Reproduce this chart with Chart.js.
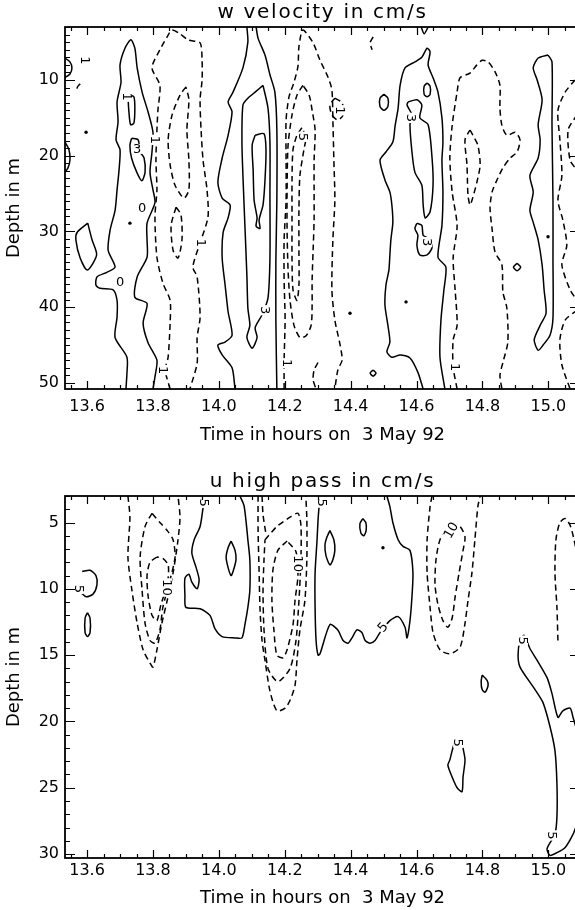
<!DOCTYPE html>
<html><head><meta charset="utf-8">
<script src="https://cdn.jsdelivr.net/npm/chart.js@4.4.1/dist/chart.umd.min.js"></script>
<style>
html,body{margin:0;padding:0;background:#fff;overflow:hidden;width:575px;height:910px;}
#c1{position:absolute;left:0;top:0;}
#c2{position:absolute;left:0;top:469px;}
</style></head><body>
<canvas id="c1" width="590" height="450" style="width:590px;height:450px"></canvas>
<canvas id="c2" width="590" height="441" style="width:590px;height:441px"></canvas>
<script>
// ---------- axes ----------
const xMin = 13.533, xMax = 15.096;
const xTickValues = [13.6, 13.8, 14.0, 14.2, 14.4, 14.6, 14.8, 15.0];
const wDepthTicks = [10, 20, 30, 40, 50];
const uDepthTicks = [5, 10, 15, 20, 25, 30];
const wDepthMax = 50.8, uDepthMax = 30.3;
const wTitle = 'w velocity in cm/s';
const uTitle = 'u high pass in cm/s';

// ---------- w velocity: positive (solid) contours, [time h, depth m] ----------
const wEdgeArcA = [[13.533,7.1],[13.548,7.6],[13.554,8.4],[13.548,9.2],[13.533,9.7]];
const wEdgeArcB = [[13.533,18.2],[13.545,19.2],[13.548,20.6],[13.542,21.6],[13.533,22.2]];
const wDiamond = [[13.602,28.9],[13.615,31.1],[13.629,33.1],[13.601,35.1],[13.579,33.5],[13.566,31.1],[13.570,30.1],[13.602,28.9]];
const wZero = [[13.718,50.8],[13.721,48.7],[13.721,46.6],[13.685,44.0],[13.691,41.3],[13.691,39.1],[13.679,37.7],[13.639,37.5],[13.627,37.1],[13.630,36.0],[13.660,35.4],[13.685,34.7],[13.664,32.5],[13.670,29.8],[13.685,27.2],[13.691,24.5],[13.697,21.9],[13.700,19.2],[13.688,17.9],[13.694,15.5],[13.691,12.9],[13.703,10.3],[13.700,8.0],[13.715,5.8],[13.733,4.7],[13.745,5.8],[13.752,8.4],[13.767,11.6],[13.785,14.2],[13.800,16.9],[13.797,19.5],[13.791,22.2],[13.800,24.5],[13.806,26.2],[13.782,28.9],[13.782,31.1],[13.782,33.4],[13.752,36.0],[13.745,38.7],[13.782,39.5],[13.770,42.1],[13.785,44.7],[13.812,47.0],[13.806,49.2],[13.800,50.8]];
const wOneA = [[13.730,12.0],[13.742,12.2],[13.745,13.7],[13.742,15.7],[13.732,15.9],[13.727,14.2],[13.725,12.2],[13.730,12.0]];
const wThreeA = [[13.735,17.7],[13.755,17.9],[13.761,19.5],[13.773,20.3],[13.776,22.2],[13.766,23.3],[13.751,22.2],[13.735,20.3],[13.730,18.6],[13.735,17.7]];
const wLineA = [[14.085,3.0],[14.088,5.0],[14.073,8.4],[14.043,11.6],[14.028,12.9],[14.040,14.2],[14.028,17.3],[14.010,20.3],[13.997,23.5],[14.010,25.6],[14.034,26.5],[14.028,28.2],[14.013,30.1],[14.010,33.5],[14.019,37.1],[14.028,40.6],[14.040,43.7],[14.019,44.6],[13.997,45.0],[14.010,46.3],[14.040,48.0],[14.049,50.8]];
const wLineB = [[14.113,3.0],[14.119,4.5],[14.140,6.7],[14.155,9.3],[14.170,11.6],[14.176,16.6],[14.176,25.9],[14.173,33.8],[14.173,41.7],[14.176,50.8]];
const wThreeB = [[14.134,10.7],[14.149,13.7],[14.155,18.2],[14.155,24.8],[14.155,33.5],[14.149,38.8],[14.131,41.0],[14.110,42.7],[14.116,44.0],[14.101,45.4],[14.085,44.0],[14.094,42.4],[14.088,40.1],[14.085,35.8],[14.079,29.2],[14.073,22.6],[14.070,18.2],[14.073,13.3],[14.088,12.4],[14.110,11.6],[14.134,10.7]];
const wFiveB = [[14.110,17.3],[14.137,17.1],[14.143,19.2],[14.140,23.2],[14.134,26.5],[14.122,28.5],[14.125,29.6],[14.113,29.3],[14.116,28.2],[14.107,25.9],[14.104,21.9],[14.101,18.6],[14.110,17.3]];
const wBandC = [[14.620,50.8],[14.604,48.6],[14.580,46.7],[14.550,46.3],[14.525,46.6],[14.510,45.9],[14.519,44.6],[14.513,42.4],[14.504,39.7],[14.507,37.1],[14.516,35.1],[14.519,33.1],[14.522,31.1],[14.528,28.8],[14.525,26.5],[14.519,24.8],[14.504,23.2],[14.489,20.6],[14.507,19.5],[14.528,18.2],[14.535,16.0],[14.544,13.7],[14.550,10.7],[14.565,8.4],[14.595,7.6],[14.616,7.0],[14.632,5.8],[14.641,6.3],[14.635,8.0],[14.650,9.7],[14.665,11.6],[14.677,15.0],[14.680,18.2],[14.677,20.6],[14.680,24.8],[14.677,29.2],[14.665,33.4],[14.689,34.7],[14.683,37.7],[14.674,41.7],[14.671,46.6],[14.686,50.8]];
const wThreeC1 = [[14.574,12.9],[14.601,12.6],[14.616,13.3],[14.610,15.0],[14.635,15.9],[14.647,20.3],[14.650,23.9],[14.641,27.4],[14.626,28.2],[14.620,26.5],[14.616,23.9],[14.595,22.2],[14.586,19.5],[14.580,15.9],[14.586,14.6],[14.571,13.3],[14.574,12.9]];
const wThreeC2 = [[14.601,28.9],[14.616,29.2],[14.620,30.5],[14.635,30.9],[14.647,32.1],[14.632,33.1],[14.610,33.1],[14.601,31.8],[14.604,30.5],[14.595,29.6],[14.601,28.9]];
const wBlobC1 = [[14.501,11.9],[14.513,12.4],[14.513,13.5],[14.501,14.0],[14.489,13.5],[14.489,12.4],[14.501,11.9]];
const wBlobC2 = [[14.632,10.4],[14.641,10.8],[14.641,11.9],[14.632,12.2],[14.623,11.9],[14.623,10.8],[14.632,10.4]];
const wRingC = [[14.468,48.3],[14.477,48.7],[14.468,49.1],[14.459,48.7],[14.468,48.3]];
const wRingD = [[14.905,34.2],[14.916,34.7],[14.905,35.2],[14.894,34.7],[14.905,34.2]];
const wLoopD = [[14.999,6.7],[15.011,7.6],[15.011,16.0],[15.014,25.9],[15.014,33.8],[15.014,41.4],[15.005,43.7],[14.984,45.0],[14.969,45.7],[14.957,44.3],[14.975,42.4],[14.993,40.8],[14.987,37.7],[14.981,34.4],[14.969,31.1],[14.954,28.8],[14.944,27.2],[14.954,24.8],[14.944,22.6],[14.969,20.3],[14.975,17.9],[14.969,15.9],[14.981,12.6],[14.966,10.0],[14.954,8.4],[14.969,7.1],[14.999,6.7]];
const wTopV = [[14.614,3.0],[14.623,3.9],[14.635,3.0]];

// ---------- w velocity: negative (dashed) contours ----------
const wNegA = [[13.852,50.8],[13.837,48.3],[13.846,46.6],[13.852,42.1],[13.852,39.1],[13.830,36.8],[13.812,33.4],[13.806,28.1],[13.812,24.5],[13.809,20.6],[13.812,16.6],[13.815,14.0],[13.821,10.7],[13.797,8.4],[13.821,6.0],[13.843,4.3],[13.858,3.4],[13.882,3.9],[13.906,4.7],[13.943,5.1],[13.949,7.4],[13.949,10.0],[13.943,12.6],[13.946,16.6],[13.952,20.6],[13.964,24.5],[13.967,28.1],[13.943,31.5],[13.921,34.7],[13.934,36.0],[13.943,41.3],[13.934,44.0],[13.934,47.4],[13.912,50.8]];
const wNegA3 = [[13.900,10.9],[13.882,12.0],[13.858,14.6],[13.846,17.9],[13.852,21.2],[13.867,23.9],[13.894,25.6],[13.909,24.5],[13.909,20.6],[13.903,16.6],[13.909,12.6],[13.900,10.9]];
const wNegA5 = [[13.870,26.8],[13.885,27.8],[13.888,31.1],[13.876,33.5],[13.861,32.5],[13.855,29.2],[13.870,26.8]];
const wNegAbit = [[13.579,10.5],[13.570,11.0],[13.576,11.5]];
const wNegB1 = [[14.198,50.8],[14.198,47.0],[14.201,41.7],[14.198,36.4],[14.198,31.1],[14.204,25.9],[14.204,20.6],[14.204,15.3],[14.213,12.2],[14.228,10.3],[14.240,8.2],[14.243,5.6],[14.255,3.4],[14.286,5.1],[14.307,7.4],[14.331,9.6],[14.343,11.3],[14.346,15.3],[14.349,20.6],[14.352,25.9],[14.346,31.1],[14.343,37.7],[14.352,41.7],[14.368,45.0],[14.374,47.0],[14.361,48.3],[14.352,50.8]];
const wNegB3 = [[14.255,10.7],[14.237,12.0],[14.222,14.6],[14.210,18.6],[14.207,24.5],[14.207,29.8],[14.210,35.1],[14.216,39.1],[14.228,42.4],[14.246,44.0],[14.264,43.8],[14.280,42.4],[14.283,39.7],[14.283,36.4],[14.286,32.5],[14.289,28.5],[14.289,24.5],[14.289,20.6],[14.292,16.6],[14.283,14.0],[14.274,12.0],[14.255,10.7]];
const wNegB5 = [[14.252,16.3],[14.237,17.3],[14.225,19.2],[14.222,23.2],[14.222,28.5],[14.222,33.8],[14.225,37.7],[14.237,39.1],[14.243,37.1],[14.243,32.5],[14.243,27.2],[14.246,22.6],[14.258,19.2],[14.264,17.6],[14.252,16.3]];
const wNegBloop = [[14.352,12.4],[14.374,13.0],[14.377,14.6],[14.361,15.3],[14.343,14.6],[14.337,13.3],[14.352,12.4]];
const wNegBtail = [[14.301,47.3],[14.289,48.3],[14.286,49.6],[14.295,50.8]];
const wNegBtop = [[14.468,4.3],[14.459,5.1],[14.465,6.0]];
const wNegC1 = [[14.723,50.8],[14.711,47.9],[14.711,44.3],[14.723,42.4],[14.717,37.7],[14.711,33.5],[14.723,29.2],[14.708,24.8],[14.701,20.3],[14.708,16.0],[14.723,11.6],[14.732,9.7],[14.762,9.1],[14.783,8.0],[14.799,7.4],[14.817,7.6],[14.838,8.9],[14.853,10.7],[14.853,13.7],[14.859,16.0],[14.874,17.3],[14.899,16.9],[14.914,17.9],[14.905,19.5],[14.884,20.3],[14.862,21.6],[14.844,23.2],[14.829,24.8],[14.823,26.9],[14.829,29.6],[14.838,32.7],[14.859,34.4],[14.862,38.0],[14.874,40.1],[14.877,44.6],[14.862,47.3],[14.853,49.0],[14.859,50.8]];
const wNegC3 = [[14.762,16.6],[14.771,17.3],[14.786,18.6],[14.793,21.2],[14.783,23.5],[14.768,25.9],[14.762,26.5],[14.756,25.2],[14.753,21.2],[14.747,17.9],[14.762,16.6]];
const wNegD1 = [[15.081,10.0],[15.051,11.6],[15.029,14.0],[15.035,17.9],[15.041,22.6],[15.029,25.9],[15.044,28.5],[15.056,31.8],[15.041,34.4],[15.066,37.7],[15.087,39.1]];
const wNegD2 = [[15.087,40.4],[15.051,41.7],[15.035,44.3],[15.041,47.6],[15.066,50.8]];
const wNegD3 = [[15.087,14.6],[15.060,16.6],[15.066,20.6],[15.087,21.9]];

const wDots = [[13.597,16.9],[13.730,28.9],[14.568,39.3],[14.999,30.7],[14.398,40.8]];
const wLabels = [['1',13.594,7.4,90],['1',13.721,12.2,90],['3',13.752,19.1,0],['0',13.767,26.9,0],['0',13.700,36.7,0],['1',13.806,17.9,90],['1',13.830,48.3,90],['1',13.946,31.5,90],['3',14.140,40.4,90],['5',14.255,17.5,90],['1',14.368,14.0,90],['3',14.583,15.0,90],['3',14.632,31.4,90],['1',14.207,47.4,90],['1',14.717,47.9,90]];

// ---------- u high pass: positive (solid) contours ----------
const uPosA = [[13.585,8.7],[13.609,8.6],[13.627,9.0],[13.630,9.7],[13.618,10.4],[13.597,10.6],[13.582,10.3]];
const uPosB = [[13.601,11.8],[13.609,12.2],[13.609,13.3],[13.601,13.6],[13.594,13.3],[13.594,12.2],[13.601,11.8]];
const uPosC = [[13.952,3.9],[13.943,5.3],[13.925,6.3],[13.918,7.3],[13.931,8.4],[13.940,9.3],[13.934,10.0],[13.918,9.5],[13.909,8.9],[13.897,9.2],[13.897,10.5],[13.900,11.4],[13.943,11.5],[13.973,12.0],[13.988,13.0],[14.010,13.6],[14.049,13.7],[14.070,13.7],[14.079,12.7],[14.088,11.4],[14.094,10.1],[14.094,7.8],[14.088,6.3],[14.082,4.8],[14.076,3.7],[14.064,3.0]];
const uPosC2 = [[14.037,6.4],[14.049,7.1],[14.052,7.8],[14.043,8.7],[14.037,9.0],[14.028,8.4],[14.022,7.6],[14.028,6.9],[14.037,6.4]];
const uPosD = [[14.304,3.8],[14.301,4.8],[14.298,6.3],[14.292,8.8],[14.292,11.4],[14.295,13.9],[14.301,15.0],[14.307,14.9],[14.337,12.7],[14.361,13.1],[14.377,13.9],[14.392,14.1],[14.404,13.7],[14.419,13.1],[14.434,13.3],[14.444,13.9],[14.459,14.1],[14.474,13.9],[14.489,13.3],[14.519,12.4],[14.544,12.1],[14.565,12.9],[14.571,13.7],[14.580,12.4],[14.586,10.6],[14.589,8.8],[14.580,7.1],[14.559,6.8],[14.544,6.3],[14.528,5.0],[14.519,3.8],[14.510,3.0]];
const uPosD2 = [[14.337,5.6],[14.349,6.3],[14.352,7.1],[14.346,7.8],[14.337,8.2],[14.325,7.5],[14.322,6.7],[14.328,6.1],[14.337,5.6]];
const uPosD3 = [[14.437,4.7],[14.446,5.0],[14.447,5.6],[14.440,6.0],[14.431,5.8],[14.428,5.1],[14.437,4.7]];
const uPosE = [[14.799,16.5],[14.814,16.9],[14.817,17.3],[14.808,17.8],[14.799,17.6],[14.796,17.0],[14.799,16.5]];
const uPosF = [[14.717,21.4],[14.708,22.2],[14.701,22.9],[14.695,23.3],[14.708,24.2],[14.723,25.0],[14.738,25.3],[14.741,24.2],[14.747,22.9],[14.741,22.0]];
const uPosG = [[15.090,21.0],[15.075,19.7],[15.066,19.0],[15.044,19.2],[15.029,19.7],[15.011,17.9],[14.996,16.7],[14.966,15.4],[14.944,14.5],[14.926,13.5],[14.914,13.9],[14.908,15.0],[14.914,15.9],[14.954,17.4],[14.984,18.6],[15.005,20.4],[15.020,22.2],[15.026,24.7],[15.026,27.2],[15.020,28.5],[14.996,29.6],[15.005,30.1],[15.026,29.9],[15.051,29.5],[15.075,28.5],[15.090,27.5]];

// ---------- u high pass: negative (dashed) contours ----------
const uNegA1 = [[13.724,3.0],[13.730,4.6],[13.724,7.6],[13.736,10.1],[13.752,12.6],[13.770,14.6],[13.791,15.6],[13.800,15.9],[13.812,14.6],[13.827,12.6],[13.843,10.9],[13.861,8.8],[13.876,6.3],[13.882,4.6],[13.876,3.0]];
const uNegA2 = [[13.797,4.3],[13.776,5.3],[13.761,7.6],[13.767,10.1],[13.776,12.6],[13.791,13.9],[13.806,14.1],[13.821,13.1],[13.830,11.4],[13.852,9.3],[13.867,7.6],[13.861,6.3],[13.843,5.6],[13.821,5.0],[13.797,4.3]];
const uNegA3 = [[13.812,7.6],[13.791,8.0],[13.782,9.0],[13.785,10.5],[13.797,12.0],[13.812,12.4],[13.824,11.2],[13.837,10.2],[13.846,9.2],[13.846,8.2],[13.830,7.7],[13.812,7.6]];
const uNegB1 = [[14.119,3.0],[14.119,5.6],[14.122,8.6],[14.125,11.6],[14.131,13.9],[14.140,15.4],[14.155,17.7],[14.176,19.2],[14.201,19.0],[14.216,18.4],[14.231,17.3],[14.237,15.4],[14.246,13.1],[14.261,10.9],[14.267,7.8],[14.267,4.8],[14.264,3.0]];
const uNegB0 = [[14.131,3.0],[14.134,4.4],[14.143,5.9]];
const uNegB2 = [[14.140,6.3],[14.176,5.3],[14.216,4.6],[14.240,4.3],[14.249,5.2],[14.249,7.8],[14.243,10.9],[14.234,13.9],[14.216,16.0],[14.179,17.0],[14.149,16.0],[14.137,13.1],[14.134,10.1],[14.137,7.8],[14.140,6.3]];
const uNegB3 = [[14.207,6.4],[14.179,7.1],[14.164,8.6],[14.161,10.9],[14.167,13.1],[14.176,15.0],[14.195,15.2],[14.207,14.6],[14.225,12.7],[14.231,10.9],[14.240,9.0],[14.234,7.2],[14.207,6.4]];
const uNegC1 = [[14.647,3.0],[14.641,3.8],[14.632,6.3],[14.632,8.8],[14.641,11.4],[14.650,13.3],[14.671,14.6],[14.701,14.9],[14.732,14.4],[14.747,12.6],[14.756,10.9],[14.768,8.8],[14.777,6.3],[14.786,3.8],[14.793,3.0]];
const uNegC2 = [[14.692,5.6],[14.671,6.3],[14.659,7.8],[14.656,9.7],[14.665,11.2],[14.680,12.4],[14.695,12.9],[14.708,12.2],[14.717,10.6],[14.729,8.8],[14.741,7.1],[14.747,6.1],[14.732,5.3],[14.711,5.2],[14.692,5.6]];
const uNegD = [[15.029,13.9],[15.026,11.4],[15.020,8.8],[15.023,6.3],[15.035,5.0],[15.051,4.7],[15.066,5.2],[15.078,6.3],[15.090,7.8]];

const uDots = [[14.498,6.9]];
const uLabels = [['5',13.576,10.0,90],['5',13.955,3.5,90],['10',13.843,9.9,90],['10',14.240,8.1,90],['5',14.498,12.9,-50],['10',14.705,5.6,-60],['5',14.726,21.6,90],['5',14.923,13.9,90],['5',15.011,28.6,90],['5',14.313,3.5,90]];

// ---------- build ----------
const FONT = '"DejaVu Sans", sans-serif';
Chart.defaults.color = '#000';
Chart.defaults.font.family = FONT;

function line(pts, dashed) {
  return { data: pts.map(p => ({x: p[0], y: p[1]})), showLine: true, borderColor: '#000',
    backgroundColor: '#000', borderWidth: 1.5, borderDash: dashed ? [6, 4] : [],
    pointRadius: 0, pointHoverRadius: 0, tension: 0.25, fill: false };
}
function dots(pts) {
  return { data: pts.map(p => ({x: p[0], y: p[1]})), showLine: false, pointRadius: 1.7,
    pointBackgroundColor: '#000', pointBorderWidth: 0 };
}
function framePlugin(yMajor, title) {
  return { id: 'frame', afterDraw(chart) {
    const {ctx, chartArea: a, scales: {x, y}} = chart;
    ctx.save(); ctx.strokeStyle = '#000'; ctx.setLineDash([]);
    ctx.lineWidth = 1.8;
    ctx.strokeRect(a.left, a.top, a.right - a.left, a.bottom - a.top);
    ctx.lineWidth = 1.2; ctx.beginPath();
    for (let k = Math.ceil(x.min * 20); k <= Math.floor(x.max * 20); k++) {
      const px = Math.round(x.getPixelForValue(k / 20)) + 0.5, len = k % 4 === 0 ? 8 : 4;
      ctx.moveTo(px, a.bottom); ctx.lineTo(px, a.bottom - len);
      ctx.moveTo(px, a.top); ctx.lineTo(px, a.top + len);
    }
    for (let k = Math.ceil(y.min); k <= Math.floor(y.max); k++) {
      const py = Math.round(y.getPixelForValue(k)) + 0.5, len = k % yMajor === 0 ? 10 : 5;
      ctx.moveTo(a.left, py); ctx.lineTo(a.left + len, py);
      ctx.moveTo(a.right, py); ctx.lineTo(a.right - len, py);
    }
    ctx.stroke();
    // panel title, centred over the plot area
    ctx.fillStyle = '#000'; ctx.font = '20px ' + FONT; ctx.textAlign = 'center'; ctx.textBaseline = 'middle';
    if ('letterSpacing' in ctx) ctx.letterSpacing = '1.7px';
    ctx.fillText(title, (a.left + a.right) / 2, a.top - 14);
    ctx.restore();
  }};
}
function labelPlugin(items) {
  return { id: 'clabels', afterDatasetsDraw(chart) {
    const {ctx, scales: {x, y}} = chart;
    ctx.save(); ctx.font = '13px ' + FONT; ctx.textAlign = 'center'; ctx.textBaseline = 'middle';
    items.forEach(([txt, t, d, rot]) => {
      ctx.save(); ctx.translate(x.getPixelForValue(t), y.getPixelForValue(d));
      ctx.rotate(rot * Math.PI / 180);
      const w = ctx.measureText(txt).width;
      ctx.fillStyle = '#fff'; ctx.fillRect(-w / 2 - 1, -5, w + 2, 10);
      ctx.fillStyle = '#000'; ctx.fillText(txt, 0, 0.5);
      ctx.restore();
    });
    ctx.restore();
  }};
}
function options(c) {
  return {
    responsive: false, animation: false, devicePixelRatio: 1, events: [],
    layout: {padding: {left: 0, right: 10, top: 27, bottom: 0}},
    plugins: { legend: {display: false}, tooltip: {enabled: false}, title: {display: false} },
    scales: {
      x: {type: 'linear', min: xMin, max: xMax,
        afterBuildTicks: s => { s.ticks = xTickValues.map(v => ({value: v})); },
        afterFit: s => { s.height = c.xh; },
        ticks: {color: '#000', font: {family: FONT, size: 16}, padding: c.xlp, maxRotation: 0, autoSkip: false,
          callback: v => Number(v).toFixed(1)},
        grid: {display: false, drawTicks: false}, border: {display: false},
        title: {display: true, text: 'Time in hours on  3 May 92', color: '#000',
          font: {family: FONT, size: 18}, padding: {top: 0, bottom: c.xtpb}}},
      y: {type: 'linear', reverse: true, min: 3, max: c.ymax,
        afterBuildTicks: s => { s.ticks = c.yticks.map(v => ({value: v})); },
        afterFit: s => { s.width = 65; },
        ticks: {color: '#000', font: {family: FONT, size: 16}, padding: 6, autoSkip: false,
          callback: v => String(v)},
        grid: {display: false, drawTicks: false}, border: {display: false},
        title: {display: true, text: 'Depth in m', color: '#000',
          font: {family: FONT, size: 18}, padding: {top: 4, bottom: 0}}}
    }
  };
}

const wSolid = [wEdgeArcA, wEdgeArcB, wDiamond, wZero, wOneA, wThreeA, wLineA, wLineB, wThreeB, wFiveB, wBandC, wThreeC1, wThreeC2, wBlobC1, wBlobC2, wRingC, wRingD, wLoopD, wTopV];
const wDashed = [wNegA, wNegA3, wNegA5, wNegAbit, wNegB1, wNegB3, wNegB5, wNegBloop, wNegBtail, wNegBtop, wNegC1, wNegC3, wNegD1, wNegD2, wNegD3];
const uSolid = [uPosA, uPosB, uPosC, uPosC2, uPosD, uPosD2, uPosD3, uPosE, uPosF, uPosG];
const uDashed = [uNegA1, uNegA2, uNegA3, uNegB1, uNegB0, uNegB2, uNegB3, uNegC1, uNegC2, uNegD];

new Chart(document.getElementById('c1'), {
  type: 'scatter',
  data: {datasets: [...wSolid.map(p => line(p, false)), ...wDashed.map(p => line(p, true)), dots(wDots)]},
  options: options({xh: 61, xlp: 8, xtpb: 4, ymax: wDepthMax, yticks: wDepthTicks}),
  plugins: [labelPlugin(wLabels), framePlugin(10, wTitle)]
});
new Chart(document.getElementById('c2'), {
  type: 'scatter',
  data: {datasets: [...uSolid.map(p => line(p, false)), ...uDashed.map(p => line(p, true)), dots(uDots)]},
  options: options({xh: 52, xlp: 3, xtpb: 1.2, ymax: uDepthMax, yticks: uDepthTicks}),
  plugins: [labelPlugin(uLabels), framePlugin(5, uTitle)]
});
</script>
</body></html>
